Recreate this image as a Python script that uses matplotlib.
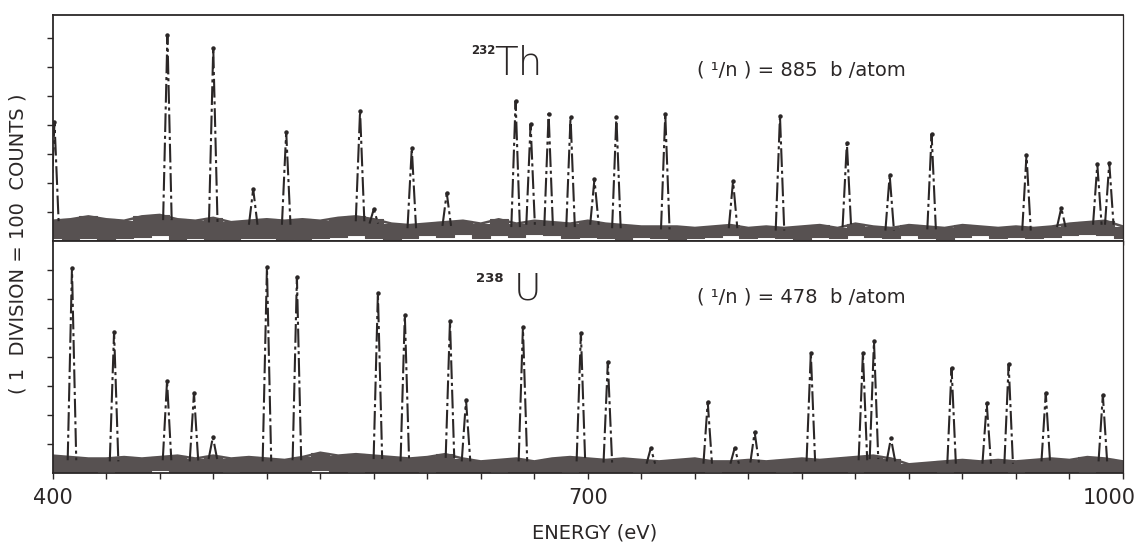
import matplotlib
matplotlib.use("Agg")
import matplotlib.pyplot as plt
import matplotlib.transforms as mtransforms

# ---------------- data ----------------
# 232Th resonance peaks: energy (eV) and height (divisions)
th_peak_E = [401.0, 464.3, 490.0, 512.4, 530.9, 572.3, 580.0, 601.3, 620.9,
             659.5, 667.9, 678.0, 690.3, 703.7, 716.0, 743.4, 781.4, 807.7,
             845.2, 869.2, 892.7, 945.9, 965.4, 985.6, 992.3]
th_peak_h = [4.1, 7.1, 6.66, 1.79, 3.76, 4.48, 1.1, 3.2, 1.66,
             4.83, 4.03, 4.39, 4.28, 2.13, 4.28, 4.37, 2.07, 4.31,
             3.38, 2.27, 3.69, 2.97, 1.14, 2.64, 2.69]

# 238U resonance peaks
u_peak_E = [410.8, 434.4, 464.1, 479.2, 489.8, 520.1, 536.9, 582.3, 597.4,
            622.7, 631.7, 663.6, 696.1, 711.2, 735.3, 767.2, 782.3, 793.5,
            825.0, 854.2, 860.4, 869.9, 903.9, 923.6, 935.9, 956.7, 988.7]
u_peak_h = [7.07, 4.86, 3.17, 2.76, 1.24, 7.1, 6.76, 6.2, 5.45,
            5.24, 2.52, 5.03, 4.83, 3.83, 0.86, 2.45, 0.86, 1.41,
            4.14, 4.14, 4.55, 1.2, 3.62, 2.41, 3.76, 2.76, 2.69]

# background band (energy grid every 10 eV, upper / lower edge in divisions)
band_E = list(range(400, 1001, 10))
th_band_hi = [0.70, 0.75, 0.85, 0.75, 0.70, 0.85, 0.90, 0.75, 0.70, 0.80,
              0.65, 0.70, 0.75, 0.70, 0.75, 0.70, 0.80, 0.85, 0.75, 0.60,
              0.55, 0.60, 0.65, 0.70, 0.60, 0.75, 0.60, 0.70, 0.65, 0.60,
              0.70, 0.60, 0.55, 0.50, 0.50, 0.50, 0.45, 0.50, 0.55, 0.45,
              0.50, 0.45, 0.50, 0.55, 0.45, 0.60, 0.50, 0.45, 0.55, 0.50,
              0.45, 0.55, 0.50, 0.45, 0.50, 0.45, 0.50, 0.60, 0.65, 0.70,
              0.50]
th_band_lo = [0.10, 0.08, 0.12, 0.05, 0.10, 0.15, 0.20, 0.05, 0.10, 0.08,
              0.05, 0.10, 0.12, 0.05, 0.08, 0.10, 0.15, 0.20, 0.10, 0.05,
              0.10, 0.20, 0.15, 0.25, 0.10, 0.20, 0.15, 0.25, 0.20, 0.10,
              0.15, 0.10, 0.05, 0.15, 0.10, 0.05, 0.10, 0.15, 0.20, 0.10,
              0.15, 0.10, 0.05, 0.15, 0.10, 0.20, 0.15, 0.10, 0.20, 0.10,
              0.05, 0.15, 0.20, 0.10, 0.15, 0.10, 0.15, 0.20, 0.25, 0.20,
              0.10]

u_band_hi = [0.60, 0.55, 0.50, 0.50, 0.55, 0.50, 0.55, 0.60, 0.50, 0.60,
             0.50, 0.55, 0.50, 0.45, 0.55, 0.70, 0.60, 0.65, 0.60, 0.55,
             0.50, 0.55, 0.65, 0.50, 0.40, 0.45, 0.50, 0.40, 0.50, 0.55,
             0.50, 0.45, 0.50, 0.45, 0.40, 0.45, 0.50, 0.40, 0.40, 0.45,
             0.40, 0.45, 0.50, 0.45, 0.50, 0.55, 0.60, 0.50, 0.30, 0.35,
             0.40, 0.45, 0.40, 0.45, 0.40, 0.45, 0.50, 0.45, 0.55, 0.50,
             0.40]
u_band_lo = [0.05, 0.03, 0.05, 0.08, 0.03, 0.05, 0.10, 0.05, 0.03, 0.05,
             0.08, 0.05, 0.03, 0.05, 0.05, 0.10, 0.05, 0.08, 0.05, 0.03,
             0.05, 0.08, 0.05, 0.03, 0.05, 0.08, 0.05, 0.05, 0.03, 0.08,
             0.05, 0.03, 0.05, 0.08, 0.05, 0.03, 0.05, 0.08, 0.05, 0.03,
             0.05, 0.08, 0.05, 0.03, 0.05, 0.08, 0.05, 0.03, 0.05, 0.05,
             0.08, 0.05, 0.03, 0.05, 0.08, 0.05, 0.03, 0.05, 0.08, 0.05,
             0.05]

x_ticks = list(range(400, 1001, 30))
x_ticklabels = {400: "400", 700: "700", 1000: "1000"}
y_ticks = [1, 2, 3, 4, 5, 6, 7]

# ---------------- style ----------------
BAND = "#575151"
INK = "#2b2727"
PEAK_HW = 2.4          # half-width of drawn peak (eV), visual style only

fig = plt.figure(figsize=(11.37, 5.46), dpi=100)
W, H = 1137.0, 546.0
left = 52.7 / W
width = (1123.0 - 52.7) / W
ax_top = fig.add_axes([left, 1 - 241 / H, width, (241 - 15) / H])
ax_bot = fig.add_axes([left, 1 - 473 / H, width, (473 - 241) / H])


def draw_panel(ax, peaks_E, peaks_h, band_hi, band_lo, ytop):
    ax.fill_between(band_E, band_lo, band_hi, color=BAND, lw=0.8,
                    edgecolor=BAND, zorder=2, step="mid")
    ax.plot(band_E, band_hi, color=BAND, lw=1.8, zorder=2)
    for e, h in zip(peaks_E, peaks_h):
        i = min(range(len(band_E)), key=lambda k: abs(band_E[k] - e))
        base = band_hi[i] * 0.8
        ax.plot([e - PEAK_HW, e, e + PEAK_HW], [base, h, base],
                color=INK, lw=1.5, zorder=3,
                linestyle=(0, (9, 1.8, 1.5, 1.8)))
        ax.plot([e], [h], marker="o", ms=2.2, color=INK, zorder=3)
    ax.set_xlim(400, 1000)
    ax.set_ylim(0, ytop)
    ax.set_xticks(x_ticks)
    ax.set_yticks(y_ticks)
    ax.tick_params(direction="out", length=4, width=1.0, colors=INK,
                   labelleft=False)
    for s in ax.spines.values():
        s.set_color(INK)
        s.set_linewidth(1.3)
    ax.spines["right"].set_linewidth(0.9)


draw_panel(ax_top, th_peak_E, th_peak_h, th_band_hi, th_band_lo, 226 / 29.0)
draw_panel(ax_bot, u_peak_E, u_peak_h, u_band_hi, u_band_lo, 232 / 29.0)

ax_top.tick_params(axis="x", labelbottom=False, length=3)
ax_bot.set_xticklabels([x_ticklabels.get(t, "") for t in x_ticks],
                       fontsize=15, color=INK)
ax_bot.tick_params(axis="x", pad=7)
lbls = ax_bot.get_xticklabels()
off = mtransforms.ScaledTranslation(-14 / 100.0, 0, fig.dpi_scale_trans)
lbls[-1].set_transform(lbls[-1].get_transform() + off)

# nuclide labels and (1/n) values
fig.text(471 / W, 1 - 50 / H, "232", fontsize=8.5, fontweight="bold",
         color=INK, ha="left", va="center")
fig.text(494 / W, 1 - 64 / H, "Th", fontsize=28, fontweight="light",
         color=INK, ha="left", va="center")
fig.text(697 / W, 1 - 70 / H, "( ¹/n ) = 885  b /atom", fontsize=14,
         color=INK, ha="left", va="center")

fig.text(476 / W, 1 - 279 / H, "238", fontsize=9.5, fontweight="bold",
         color=INK, ha="left", va="center")
fig.text(514 / W, 1 - 289 / H, "U", fontsize=27, fontweight="light",
         color=INK, ha="left", va="center")
fig.text(697 / W, 1 - 297 / H, "( ¹/n ) = 478  b /atom", fontsize=14,
         color=INK, ha="left", va="center")

# axis titles
fig.text(18 / W, 1 - 244 / H, "( 1  DIVISION = 100  COUNTS )", rotation=90,
         fontsize=14, color=INK, ha="center", va="center")
fig.text(595 / W, 1 - 533 / H, "ENERGY (eV)", fontsize=14, color=INK,
         ha="center", va="center")

fig.savefig("out.png", dpi=100, facecolor="white")
